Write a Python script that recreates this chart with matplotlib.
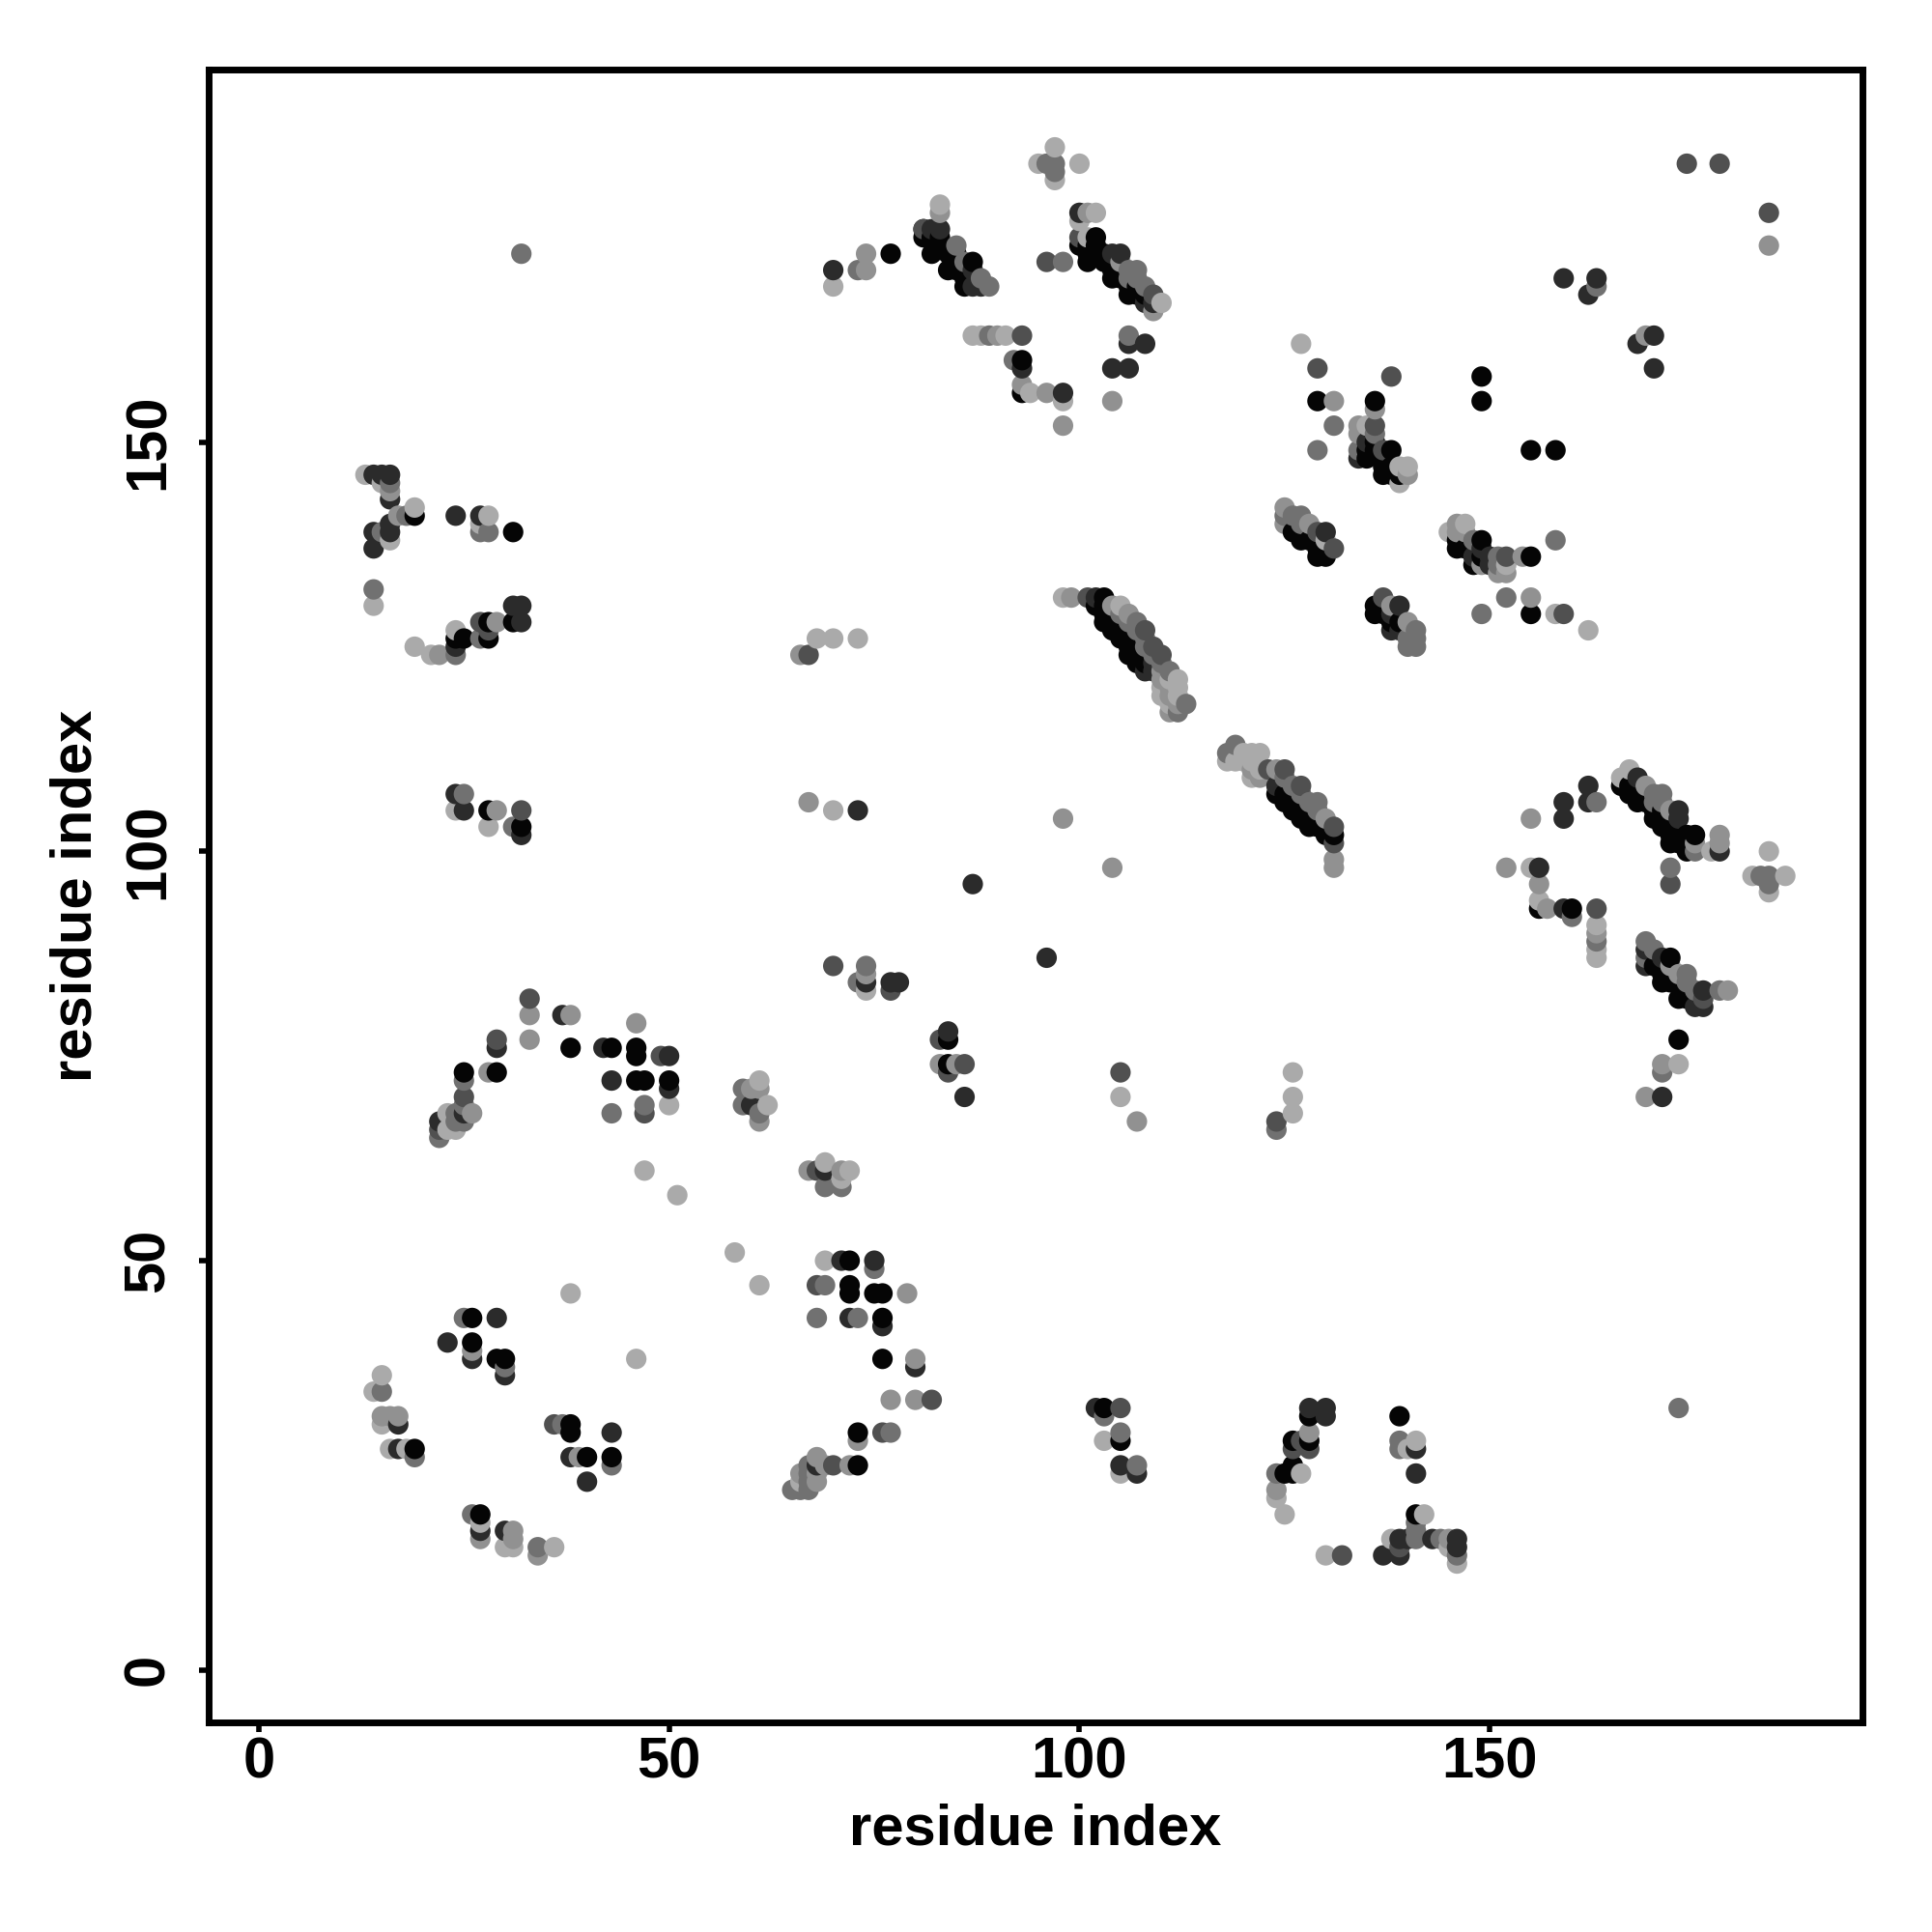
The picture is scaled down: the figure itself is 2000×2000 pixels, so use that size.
import matplotlib
matplotlib.use('Agg')
import matplotlib.pyplot as plt

# contacts, grouped by grey level
black = [(25,73),(29,73),(38,76),(43,76),(46,76),(46,75),(46,72),(47,72),(50,72),(72,50),(72,47),(72,46),(75,46),(76,46),
         (76,43),(76,38),(73,29),(73,25),(84,77),(84,74),(103,32),(105,28),(128,31),(126,28),(128,28),(126,25),(125,24),(126,24),
         (139,31),(141,19),(26,43),(26,40),(29,38),(30,38),(38,30),(38,29),(40,26),(43,26),(19,27),(27,19),
         (102,175),(100,174),(102,174),(101,174),(101,173),(101,172),(102,173),(103,173),(104,172),(103,172),(104,171),(105,171),
         (104,170),(105,170),(106,169),(107,169),(106,168),(107,168),(108,168),(93,160),(93,156),(87,172),
         (81,175),(82,175),(83,175),(82,173),(83,174),(84,173),(85,173),(84,171),(85,171),(86,170),(86,169),(77,173),(81,176),
         (129,155),(136,155),(149,158),(149,155),(155,149),(158,149),(136,150),(135,149),(136,149),(138,149),(135,148),(137,148),
         (137,146),(138,146),(139,146),(137,147),(138,147),(126,139),(127,139),(127,138),(128,138),(129,137),(130,137),(129,136),(130,136),
         (146,138),(149,138),(146,137),(147,137),(148,135),(155,136),(149,136),(155,129),(136,130),(136,129),(137,129),(138,128),(139,128),
         (103,131),(102,130),(103,130),(103,129),(104,129),(103,128),(104,128),(105,128),(104,127),(105,127),(106,127),(105,126),(106,126),(107,126),
         (106,125),(107,125),(106,124),(107,124),(108,124),(107,123),(108,123),
         (124,107),(125,107),(126,106),(125,106),(126,105),(127,105),(128,104),(127,104),(129,104),(128,103),(129,103),(130,102),(131,102),
         (160,93),(156,93),(166,108),(167,108),(167,107),(168,107),(168,106),(169,106),(170,104),(171,105),(170,105),(172,104),(171,103),(172,103),
         (174,102),(175,102),(172,101),(173,101),(174,101),(174,100),(172,102),(173,102),
         (172,87),(170,86),(171,86),(171,85),(172,85),(171,84),(172,84),(173,84),(173,82),(174,82),(174,83),(173,77),
         (28,105),(32,103),(31,128),(28,128),(28,126),(24,126),(25,126),(19,141),(31,139)]
dark = [(25,68),(29,76),(22,67),(37,80),(42,76),(50,75),(43,72),(50,71),(60,69),(69,61),(68,25),(71,50),(75,50),(72,43),(76,42),(80,37),
        (74,84),(77,84),(78,84),(84,78),(86,70),(102,32),(105,25),(107,24),(128,32),(130,32),(130,31),(137,14),(139,14),(141,27),(141,24),
        (139,16),(140,16),(143,16),(146,16),(146,15),(29,43),(23,40),(26,38),(30,36),(17,30),(17,27),(43,29),(38,26),(40,23),(27,17),(30,17),
        (100,178),(105,173),(104,173),(108,167),(109,167),(93,159),(98,156),(106,162),(108,162),(104,159),(106,159),(82,176),(83,176),(87,171),(87,169),(88,169),
        (70,171),(159,170),(163,170),(162,168),(168,162),(170,163),(170,159),(135,150),(134,148),(130,139),(148,136),(149,137),(150,136),(150,135),
        (139,130),(138,129),(138,127),(139,127),(102,131),(109,123),(108,122),(109,122),(124,108),(162,108),(159,106),(162,106),(159,104),(156,98),(159,93),
        (168,109),(173,105),(173,104),(178,100),(169,88),(169,86),(171,87),(176,83),(175,81),(176,81),(171,70),(87,96),(96,87),(73,105),
        (14,146),(15,146),(16,146),(16,143),(24,141),(27,141),(14,139),(16,139),(16,140),(14,137),(31,130),(32,130),(32,128),(24,125),
        (24,107),(25,105),(32,102)]
grey50 = [(33,82),(29,77),(25,70),(49,75),(47,68),(68,47),(68,61),(76,29),(82,33),(70,25),(70,86),(77,83),(83,77),(86,74),(84,73),(105,73),
          (124,67),(105,32),(127,28),(128,27),(126,27),(132,14),(139,15),(36,30),(100,175),(96,172),(93,163),(109,168),(81,176),
          (174,184),(178,184),(184,178),(129,159),(138,158),(136,152),(137,149),(129,139),(131,137),(152,136),(159,129),(137,131),
          (101,131),(108,127),(109,125),(110,124),(123,110),(125,110),(127,108),(131,103),(131,101),(163,93),(172,96),(176,82),
          (27,128),(28,127),(32,105),(67,124),(22,66)]
grey70 = [(22,65),(65,22),(66,22),(67,22),(43,68),(47,69),(59,71),(59,69),(61,68),(69,59),(71,59),(67,24),(67,23),(67,25),(75,49),(69,47),(68,43),(73,43),(30,37),(25,72),(19,26),(25,69),
          (15,34),(37,30),(26,19),(43,25),(34,15),(24,67),(25,67),(24,68),(73,84),(74,86),(105,29),(107,25),(103,31),(124,66),(141,18),(141,17),(141,16),(144,16),(146,14),
          (96,184),(97,184),(97,183),(106,171),(107,171),(106,170),(107,170),(108,169),(89,163),(92,160),(106,163),(98,172),(88,170),(89,169),(85,174),(86,172),
          (32,173),(73,171),(163,169),(129,149),(131,152),(136,151),(134,149),(125,141),(126,141),(127,141),(127,140),(148,138),(151,136),(151,135),(158,138),
          (152,131),(149,129),(141,127),(140,126),(141,126),(140,125),(141,125),(105,129),(106,128),(107,128),(107,127),(108,126),(108,125),(109,124),(110,123),(111,122),(113,118),(112,117),
          (119,113),(118,112),(126,108),(125,109),(127,107),(128,106),(129,106),(129,105),(163,106),(160,92),(163,89),(170,107),(171,107),(171,106),(170,106),(175,100),(172,98),
          (183,97),(184,97),(184,96),(169,89),(170,88),(169,87),(174,85),(174,84),(175,83),(178,83),(171,73),(173,32),
          (16,145),(18,141),(15,139),(27,139),(28,139),(14,132),(27,126),(24,124),(25,107),(31,103),
          (77,29),(25,43),(139,28),(139,27),(124,24)]
grey90 = [(33,80),(33,77),(38,80),(26,68),(28,73),(61,71),(60,71),(61,67),(71,61),(67,61),(46,79),(79,46),(80,38),(26,39),(77,33),(80,33),(72,25),(69,25),(68,26),
          (68,23),(68,24),(66,24),(73,28),(83,74),(85,74),(107,67),(124,22),(128,29),(15,31),(16,31),(17,31),(39,26),(27,16),(31,17),(31,16),(34,14),(145,16),(74,85),
          (101,178),(109,166),(105,172),(90,163),(93,157),(96,156),(104,155),(98,152),(83,178),(74,171),(74,173),(184,174),(169,163),(131,155),(136,154),(134,152),(134,151),(140,146),
          (125,142),(125,140),(128,140),(146,140),(146,139),(147,139),(154,136),(151,134),(152,134),(149,135),(155,131),(140,128),(138,130),
          (99,131),(104,130),(106,129),(110,122),(110,121),(111,120),(111,119),(112,118),(111,117),(121,110),(122,109),(124,110),(130,104),(131,99),(131,98),
          (155,104),(152,98),(156,96),(157,93),(163,90),(169,108),(172,105),(175,101),(178,102),(178,101),(172,86),(173,85),(179,83),(171,74),(169,70),
          (16,144),(17,141),(29,128),(22,124),(29,105),(67,106),(98,104),(104,98),(66,124)]
greyaa = [(23,68),(23,66),(24,66),(61,72),(62,69),(69,62),(72,61),(71,60),(50,69),(47,61),(51,58),(58,51),(61,47),(38,46),(46,38),(69,50),(74,83),(105,70),(126,73),(126,70),(126,68),
          (105,24),(103,28),(124,21),(125,19),(127,24),(130,14),(138,16),(140,27),(141,28),(142,19),(146,13),(145,15),(15,36),(14,34),(15,30),(16,27),(18,27),(27,18),(30,15),(31,15),(36,15),
          (66,23),(97,186),(95,184),(97,182),(100,184),(102,178),(100,177),(101,175),(110,167),(87,163),(88,163),(91,163),(94,156),(98,155),(70,169),(127,162),(83,179),
          (135,152),(139,147),(140,147),(139,145),(130,138),(147,140),(145,139),(152,135),(158,129),(162,127),
          (98,131),(105,130),(110,120),(111,121),(112,121),(112,120),(110,119),(112,119),(111,118),(118,111),(120,112),(121,112),(122,112),(119,111),(120,111),(121,111),(121,109),(122,110),
          (156,94),(155,98),(163,91),(163,88),(163,87),(167,110),(166,109),(177,100),(184,100),(182,97),(186,97),(184,95),(173,74),
          (13,146),(15,145),(19,142),(16,138),(28,141),(27,140),(14,130),(24,127),(19,125),(21,124),(24,105),(28,103),(70,105),(68,126),(70,126),(73,126)]

shades = [(black, '#050505'), (dark, '#2b2b2b'), (grey50, '#505050'), (grey70, '#717171'), (grey90, '#919191'), (greyaa, '#aaaaaa')]

plt.rcParams['font.family'] = ['Liberation Sans', 'DejaVu Sans']
plt.rcParams['font.weight'] = 'bold'

# the original is sorted by x then y, later points sit on top
points = []
for pairs, col in shades:
    for p in pairs:
        points.append((p[0], p[1], col))
points.sort(key=lambda p: (p[0], p[1]))

fig = plt.figure(figsize=(10, 10), dpi=200)
ax = fig.add_axes([216/2000, 1 - 1783/2000, (1928-216)/2000, (1783-72)/2000])
ax.scatter([p[0] for p in points], [p[1] for p in points], c=[p[2] for p in points], s=58, linewidths=0, zorder=3)

ax.set_xlim(-6.1, 195.4)
ax.set_ylim(-6.4, 195.5)
ax.set_xticks([0, 50, 100, 150])
ax.set_yticks([0, 50, 100, 150])
ax.tick_params(length=3.5, width=2, labelsize=21.5)
ax.tick_params(axis='x', pad=1.7)
ax.tick_params(axis='y', pad=9)
for t in ax.get_yticklabels():
    t.set_rotation(90)
    t.set_va('center')
for s in ax.spines.values():
    s.set_linewidth(2.5)
ax.set_xlabel('residue index', fontsize=21.5, fontweight='bold', labelpad=5)
ax.set_ylabel('residue index', fontsize=21.5, fontweight='bold', labelpad=7)

fig.savefig('out.png')
